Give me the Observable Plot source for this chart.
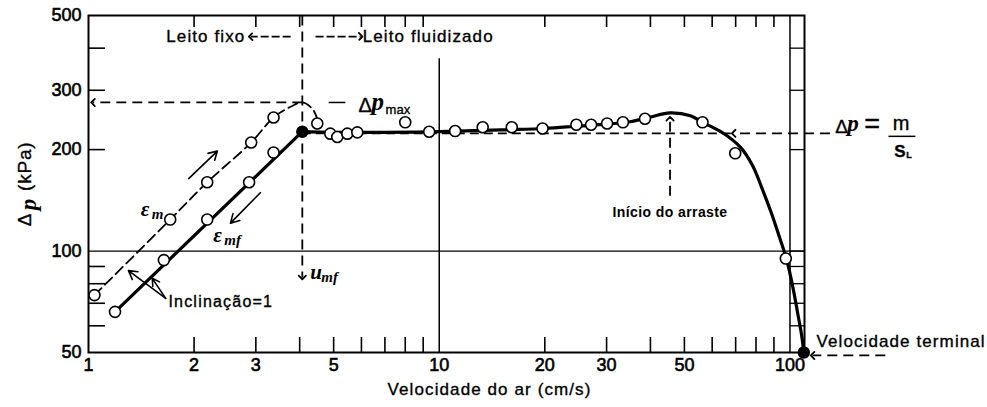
<!DOCTYPE html>
<html>
<head>
<meta charset="utf-8">
<script src="https://cdn.jsdelivr.net/npm/d3@7"></script>
<script src="https://cdn.jsdelivr.net/npm/@observablehq/plot@0.6"></script>
<style>
  html, body { margin: 0; padding: 0; background: #fff; }
  svg { display: block; }
  svg text { stroke: #000; stroke-width: 0.35px; }
  g[font-family^="Liberation Serif"] text { stroke-width: 0; }
  g[font-size="18"] text { stroke-width: 0.6px; }
  g[font-size="17"] { letter-spacing: 1.1px; }
  g[font-size="19"] { letter-spacing: 0.8px; }
  g[font-size="16"] { letter-spacing: 1.2px; }
  g[font-size="14"][font-weight="bold"] { letter-spacing: 0.4px; }
  g[font-size="14"][font-weight="bold"] text { stroke-width: 0; }
</style>
</head>
<body>
<div id="chart"></div>
<script>
// ---------------- data ----------------
const xTickLabels = [1, 2, 3, 5, 10, 20, 30, 50, 100];
const yTickLabels = [50, 100, 200, 300, 500];
const xMinorTicks = [2, 3, 4, 5, 6, 7, 8, 9, 20, 30, 40, 50, 60, 70, 80, 90];
const yMinorTicks = [60, 70, 80, 90, 200, 300, 400];
const stripTicks = [400, 300, 200, 100, 90, 80, 70, 60];
const gridX = [10];
const gridY = [100];
const stripX = [100];

// ε_m : increasing velocity (fixed bed, loose packing)
const emX = [1.04, 1.71, 2.18, 2.91, 3.37];
const emY = [74, 124, 160, 210, 249];
const emCurveX = [1.04, 1.71, 2.18, 2.91, 3.37, 3.77, 4.07, 4.35, 4.49];
const emCurveY = [74, 124, 160, 210, 249, 268, 276, 264, 247];

// ε_mf : decreasing velocity
const emfX = [1.19, 1.64, 2.18, 2.87, 3.37];
const emfY = [66, 94, 124, 160, 196];

// fluidized bed measurements
const fluidX = [4.49, 4.89, 5.12, 5.47, 5.84, 8.0, 9.36, 11.1, 13.3, 16.1, 19.7, 24.6, 27.1, 30.1, 33.4, 38.6, 56.3, 69.8, 97.3];
const fluidY = [239, 223, 218, 223, 225, 241, 226, 227, 233, 233, 231, 237, 237, 239, 241, 247, 241, 195, 95];

// key points: minimum fluidization and terminal velocity
const keyX = [4.07, 109.5];
const keyY = [226, 50];

// solid curves
const riseX = [1.19, 4.07];
const riseY = [66, 226];
const bedX = [4.07, 5, 7, 10, 15, 20, 25, 30, 35, 40, 45.5, 52, 56.3, 64.7, 72.3, 78.2, 83.5, 88.6, 93.4, 97.8, 101.7, 105.1, 108.0, 109.5];
const bedY = [226, 225, 225, 226, 229, 231, 235, 238, 242, 250, 257, 252, 241, 223.3, 203, 179.4, 152.2, 129.3, 109.7, 94.4, 79, 65.7, 56.1, 50];

// annotation anchors (data coordinates)
const umf = 4.07;
const dpMax = 276;
const dpBed = 223.5;
const uDrag = 45.5;
const dashedArrows = [
  {x1: umf, y1: 500, x2: umf, y2: 83.5},
  {x1: umf, y1: dpMax, x2: 1.03, y2: dpMax},
  {x1: uDrag, y1: 146, x2: uDrag, y2: 247},
  {x1: 130, y1: dpBed, x2: 69.1, y2: dpBed},
  {x1: 187, y1: 49, x2: 116, y2: 49}
];
const bedArrows = [
  {x1: 3.77, y1: 433, x2: 2.9, y2: 433},
  {x1: 4.44, y1: 433, x2: 5.97, y2: 433}
];
const solidArrows = [
  {x1: 1.93, y1: 164, x2: 2.33, y2: 198},
  {x1: 3.09, y1: 149, x2: 2.54, y2: 121},
  {x1: 1.66, y1: 72.4, x2: 1.30, y2: 87.5},
  {x1: 1.66, y1: 72.4, x2: 1.52, y2: 83}
];

// ---------------- build ----------------
const zip = (xs, ys) => xs.map((x, i) => ({x, y: ys[i]}));
const SERIF = "Liberation Serif, DejaVu Serif, serif";
const SANS = "Liberation Sans, Arial, sans-serif";
function label(x, y, str, opts = {}) {
  return Plot.text([str], {x: () => x, y: () => y, text: d => d, fill: "black", ...opts});
}
const it = {fontFamily: SERIF, fontStyle: "italic", fontWeight: "bold", textAnchor: "start", lineAnchor: "bottom"};

const plot = Plot.plot({
  width: 987,
  height: 407,
  marginTop: 15,
  marginBottom: 55,
  marginLeft: 88,
  marginRight: 183,
  x: {type: "log", domain: [1, 110], axis: null},
  y: {type: "log", domain: [50, 500], axis: null},
  style: {fontFamily: SANS, color: "black", background: "white", overflow: "visible"},
  marks: [
    // grid / strip
    Plot.ruleY(gridY, {y: d => d, x1: 1, x2: 110, stroke: "black", strokeWidth: 1.2}),
    Plot.ruleX(gridX, {x: d => d, y1: 372, y2: 50, stroke: "black", strokeWidth: 1.5}),
    Plot.ruleX(stripX, {x: d => d, stroke: "black", strokeWidth: 1.5}),
    Plot.ruleY(stripTicks, {y: d => d, x1: 100, x2: 110, stroke: "black", strokeWidth: 1.3}),
    // inward ticks
    Plot.tickX(xMinorTicks, {x: d => d, insetTop: 322, stroke: "black", strokeWidth: 1.6}),
    Plot.tickX(xMinorTicks, {x: d => d, insetBottom: 325, stroke: "black", strokeWidth: 1.6}),
    Plot.tickY(yMinorTicks, {y: d => d, insetRight: 699, stroke: "black", strokeWidth: 1.6}),
    Plot.frame({stroke: "black", strokeWidth: 2}),
    // tick labels
    Plot.text(xTickLabels, {x: d => d, frameAnchor: "bottom", dy: 18, fontSize: 18, fill: "black"}),
    Plot.text(yTickLabels, {y: d => d, frameAnchor: "left", dx: -7, textAnchor: "end", fontSize: 18, fill: "black"}),
    // axis titles
    Plot.text(["Velocidade do ar (cm/s)"], {text: d => d, frameAnchor: "bottom", dx: 43, dy: 42, fontSize: 17, fill: "black"}),
    label(1, 178.5, "(kPa)", {dx: -64, rotate: -90, fontSize: 19}),
    label(1, 137.4, "p", {dx: -60, rotate: -90, fontSize: 23, fontFamily: SERIF, fontStyle: "italic", fontWeight: "bold"}),
    label(1, 124, "Δ", {dx: -64, rotate: -90, fontSize: 19}),
    // dashed reference lines
    Plot.ruleY([dpBed], {y: d => d, x1: umf, x2: 69.1, stroke: "black", strokeWidth: 1.8, strokeDasharray: "9,5"}),
    Plot.link(dashedArrows, {x1: "x1", y1: "y1", x2: "x2", y2: "y2", stroke: "black", strokeWidth: 1.8, strokeDasharray: "10,6", markerEnd: "arrow"}),
    Plot.link(bedArrows, {x1: "x1", y1: "y1", x2: "x2", y2: "y2", stroke: "black", strokeWidth: 1.8, strokeDasharray: "8,3", markerEnd: "arrow"}),
    Plot.link([{x1: 4.84, x2: 5.40, y: dpMax}], {x1: "x1", x2: "x2", y1: "y", y2: "y", stroke: "black", strokeWidth: 1.5}),
    // data curves
    Plot.line(zip(emCurveX, emCurveY), {x: "x", y: "y", curve: "catmull-rom", stroke: "black", strokeWidth: 1.8, strokeDasharray: "10,5"}),
    Plot.line(zip(riseX, riseY), {x: "x", y: "y", stroke: "black", strokeWidth: 3.2}),
    Plot.line(zip(bedX, bedY), {x: "x", y: "y", curve: "catmull-rom", stroke: "black", strokeWidth: 3.2}),
    Plot.arrow(solidArrows, {x1: "x1", y1: "y1", x2: "x2", y2: "y2", stroke: "black", strokeWidth: 1.6, headLength: 9}),
    // points
    Plot.dot(zip(emX, emY), {x: "x", y: "y", r: 5.5, fill: "white", stroke: "black", strokeWidth: 1.6}),
    Plot.dot(zip(emfX, emfY), {x: "x", y: "y", r: 5.5, fill: "white", stroke: "black", strokeWidth: 1.6}),
    Plot.dot(zip(fluidX, fluidY), {x: "x", y: "y", r: 5.5, fill: "white", stroke: "black", strokeWidth: 1.6}),
    Plot.dot(zip(keyX, keyY), {x: "x", y: "y", r: 5.5, fill: "black", stroke: "black"}),
    // fraction bar of Δp = m/S_L
    Plot.ruleY([dpBed], {y: d => d, x1: 191.5, x2: 228.6, dy: 3, stroke: "black", strokeWidth: 1.5}),
    // annotations
    label(2.80, 433, "Leito fixo", {textAnchor: "end", fontSize: 17}),
    label(6.05, 433, "Leito fluidizado", {textAnchor: "start", fontSize: 17}),
    label(119, 53.8, "Velocidade terminal", {textAnchor: "start", fontSize: 17}),
    label(1.69, 70.9, "Inclinação=1", {textAnchor: "start", fontSize: 16}),
    label(uDrag, 130, "Início do arraste", {fontSize: 14, fontWeight: "bold"}),
    // Δp_max
    label(5.89, dpMax, "Δ", {textAnchor: "start", lineAnchor: "bottom", dy: 10, fontSize: 20}),
    label(5.89, dpMax, "p", {...it, dx: 13, dy: 8, fontSize: 25}),
    label(5.89, dpMax, "max", {textAnchor: "start", lineAnchor: "bottom", dx: 27, dy: 12, fontSize: 13}),
    // Δp = m / S_L
    label(134.5, dpBed, "Δ", {textAnchor: "start", lineAnchor: "bottom", dy: 0, fontSize: 19}),
    label(134.5, dpBed, "p", {...it, dx: 12, dy: -2, fontSize: 23}),
    label(134.5, dpBed, "=", {textAnchor: "start", lineAnchor: "bottom", dx: 29, dy: 0, fontSize: 27}),
    label(134.5, dpBed, "m", {textAnchor: "middle", lineAnchor: "bottom", dx: 66, dy: -3, fontSize: 20}),
    label(134.5, dpBed, "S", {textAnchor: "start", lineAnchor: "bottom", dx: 59, dy: 24, fontSize: 17, fontWeight: "bold"}),
    label(134.5, dpBed, "L", {textAnchor: "start", lineAnchor: "bottom", dx: 71, dy: 25, fontSize: 9, fontWeight: "bold"}),
    // ε_m, ε_mf, u_mf
    label(1.41, 133.6, "ε", {...it, dy: 7, fontSize: 21}),
    label(1.41, 133.6, "m", {...it, dx: 11, dy: 10, fontSize: 15}),
    label(2.27, 110, "ε", {...it, dy: 5, fontSize: 21}),
    label(2.27, 110, "mf", {...it, dx: 11, dy: 8, fontSize: 15}),
    label(4.29, 86, "u", {...it, dy: 6, fontSize: 21}),
    label(4.29, 86, "mf", {...it, dx: 11, dy: 9, fontSize: 15})
  ]
});
document.getElementById("chart").appendChild(plot);
</script>
</body>
</html>
